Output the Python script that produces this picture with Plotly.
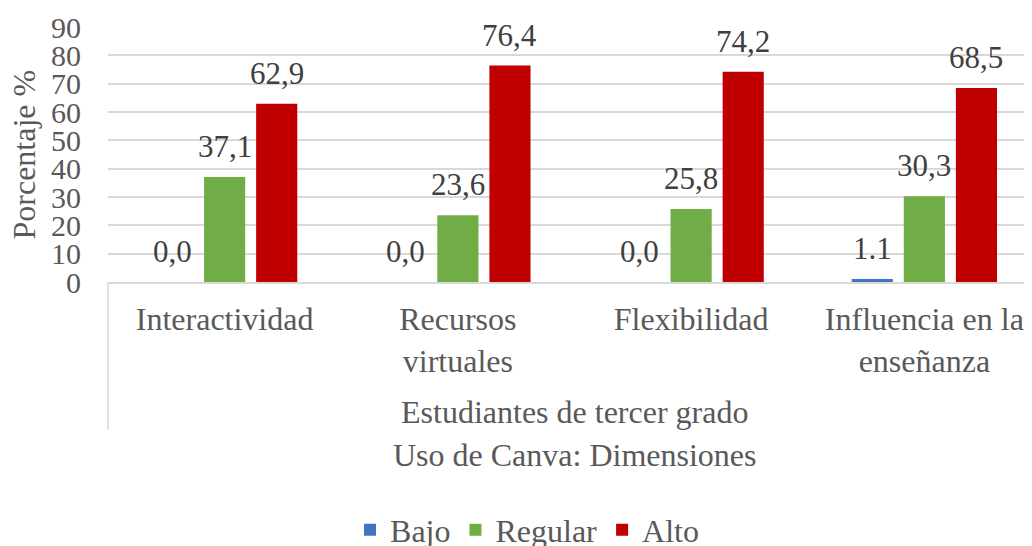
import plotly.graph_objects as go

categories = ["Interactividad", "Recursos<br>virtuales", "Flexibilidad", "Influencia en la<br>enseñanza"]
series_names = ["Bajo", "Regular", "Alto"]
bajo = [0.0, 0.0, 0.0, 1.1]
regular = [37.1, 23.6, 25.8, 30.3]
alto = [62.9, 76.4, 74.2, 68.5]
bajo_labels = ["0,0", "0,0", "0,0", "1.1"]
regular_labels = ["37,1", "23,6", "25,8", "30,3"]
alto_labels = ["62,9", "76,4", "74,2", "68,5"]
y_ticks = [0, 10, 20, 30, 40, 50, 60, 70, 80, 90]
colors = ["#4472C4", "#70AD47", "#C00000"]

FONT = "'Liberation Serif', 'Times New Roman', Times, 'DejaVu Serif', serif"
GRAY = "#595959"
BARGAP = 0.33
BARGROUPGAP = 0.21
PLOT_H = 255  # plot area height in px

values = [bajo, regular, alto]
labels = [bajo_labels, regular_labels, alto_labels]

fig = go.Figure()
for name, vals, col in zip(series_names, values, colors):
    fig.add_trace(go.Bar(name=name, x=categories, y=vals, marker_color=col,
                         marker_line_width=0))

slot = (1 - BARGAP) / len(series_names)
annotations = []
for j, (vals, labs) in enumerate(zip(values, labels)):
    for i, (v, t) in enumerate(zip(vals, labs)):
        annotations.append(dict(x=i + (j - 1) * slot, y=v, xref="x", yref="y",
                                text=t, showarrow=False, yanchor="bottom",
                                yshift=11, font=dict(family=FONT, size=31, color="#404040")))

annotations.append(dict(x=0, xref="paper", y=0.5, yref="paper", xshift=-85, xanchor="center",
                        text="Porcentaje %", textangle=-90, showarrow=False,
                        font=dict(family=FONT, size=32, color=GRAY)))
annotations.append(dict(x=1.5, xref="x", y=-130 / PLOT_H, yref="paper",
                        text="Estudiantes de tercer grado", showarrow=False, yanchor="middle",
                        font=dict(family=FONT, size=32, color=GRAY)))
annotations.append(dict(x=1.5, xref="x", y=-173 / PLOT_H, yref="paper",
                        text="Uso de Canva: Dimensiones", showarrow=False, yanchor="middle",
                        font=dict(family=FONT, size=32, color=GRAY)))

shapes = [
    dict(type="line", xref="paper", yref="paper", x0=0, x1=0, y0=0, y1=-148 / PLOT_H,
         line=dict(color="#D9D9D9", width=1.5)),
]

fig.update_layout(
    width=1024, height=538,
    margin=dict(l=100, r=0, t=19, b=264, autoexpand=False),
    paper_bgcolor="white", plot_bgcolor="white",
    barmode="group", bargap=BARGAP, bargroupgap=BARGROUPGAP,
    font=dict(family=FONT, size=32, color=GRAY),
    annotations=annotations, shapes=shapes,
    legend=dict(orientation="h", x=0.4535, xanchor="center", y=-248 / PLOT_H,
                yanchor="middle", font=dict(family=FONT, size=32, color=GRAY),
                itemwidth=30, traceorder="normal"),
    showlegend=True,
)
fig.update_xaxes(range=[-0.5, 3.5 - 9 / 233.3], showline=True, linecolor="#D9D9D9",
                 linewidth=1.5, ticks="", showgrid=False, automargin=False,
                 tickfont=dict(family=FONT, size=32, color=GRAY),
                 ticklabelstandoff=8)
fig.update_yaxes(range=[0, 90], tickvals=y_ticks, showgrid=True, gridcolor="#D9D9D9",
                 gridwidth=1.5, zeroline=False, showline=False, ticks="", automargin=False,
                 tickfont=dict(family=FONT, size=30, color=GRAY),
                 ticklabelstandoff=26)

fig.write_html("out.html")
